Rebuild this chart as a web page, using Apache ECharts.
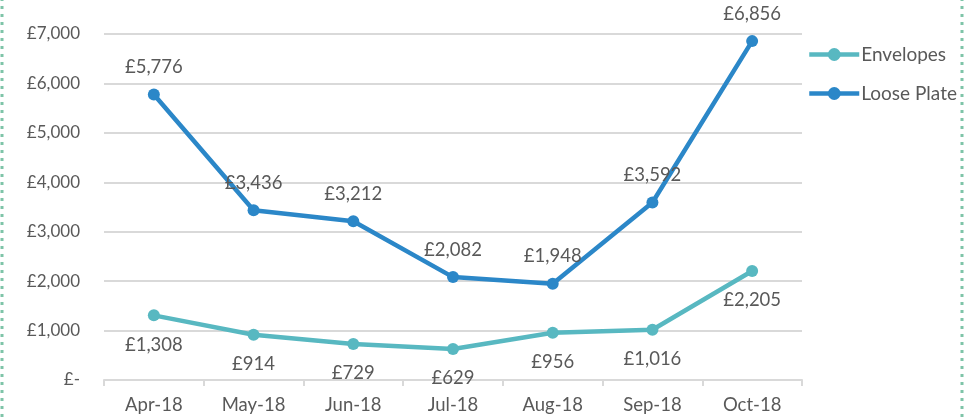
<!DOCTYPE html>
<html>
<head>
<meta charset="utf-8">
<script src="https://cdn.jsdelivr.net/npm/echarts@6/dist/echarts.min.js"></script>
<style>
  html, body { margin: 0; padding: 0; background: #fff; }
  #chart { width: 973px; height: 417px; }
</style>
</head>
<body>
<div id="chart"></div>
<script>
// data
var months = ['Apr-18', 'May-18', 'Jun-18', 'Jul-18', 'Aug-18', 'Sep-18', 'Oct-18'];
var envelopes = [1308, 914, 729, 629, 956, 1016, 2205];
var loosePlate = [5776, 3436, 3212, 2082, 1948, 3592, 6856];

var txt = '#595959';
var font = 'Lato';

function pounds(v) {
  if (v === 0) return '£-';
  return '£' + v.toLocaleString('en-GB');
}

var myChart = echarts.init(document.getElementById('chart'));

var option = {
  animation: false,
  textStyle: { fontFamily: font },
  grid: { left: 104, right: 171, top: 34, bottom: 37 },
  legend: {
    orient: 'vertical',
    left: 802,
    top: 40,
    itemWidth: 50,
    itemHeight: 16,
    itemGap: 20,
    lineStyle: { width: 4.5 },
    textStyle: { color: txt, fontSize: 19, fontFamily: font, padding: [0, 0, 0, -3] },
    data: ['Envelopes', 'Loose Plate']
  },
  xAxis: {
    type: 'category',
    data: months,
    boundaryGap: true,
    axisLine: { lineStyle: { color: '#d9d9d9', width: 2 } },
    axisTick: { show: true, length: 6, lineStyle: { color: '#d9d9d9', width: 2 } },
    axisLabel: { color: txt, fontSize: 18.5, margin: 16 }
  },
  yAxis: {
    type: 'value',
    min: 0,
    max: 7000,
    interval: 1000,
    axisLine: { show: false },
    axisTick: { show: false },
    splitLine: { lineStyle: { color: '#d9d9d9', width: 2 } },
    axisLabel: { color: txt, fontSize: 17, margin: 24, formatter: pounds }
  },
  series: [
    {
      name: 'Envelopes',
      type: 'line',
      data: envelopes,
      symbol: 'circle',
      symbolSize: 12,
      color: '#58b8c1',
      lineStyle: { width: 4.5 },
      label: {
        show: true,
        position: 'bottom',
        distance: 14,
        color: txt,
        fontSize: 18.5,
        formatter: function (p) { return pounds(p.value); }
      }
    },
    {
      name: 'Loose Plate',
      type: 'line',
      data: loosePlate,
      symbol: 'circle',
      symbolSize: 12,
      color: '#2b87c8',
      lineStyle: { width: 4.5 },
      label: {
        show: true,
        position: 'top',
        distance: 12,
        color: txt,
        fontSize: 18.5,
        formatter: function (p) { return pounds(p.value); }
      }
    }
  ],
  graphic: [
    {
      type: 'line',
      shape: { x1: 2, y1: -2, x2: 2, y2: 420 },
      style: { stroke: '#7ec4a8', lineWidth: 3, lineDash: [3, 5] }
    },
    {
      type: 'line',
      shape: { x1: 962, y1: -2, x2: 962, y2: 420 },
      style: { stroke: '#7ec4a8', lineWidth: 3, lineDash: [3, 5] }
    }
  ]
};

myChart.setOption(option);
</script>
</body>
</html>
